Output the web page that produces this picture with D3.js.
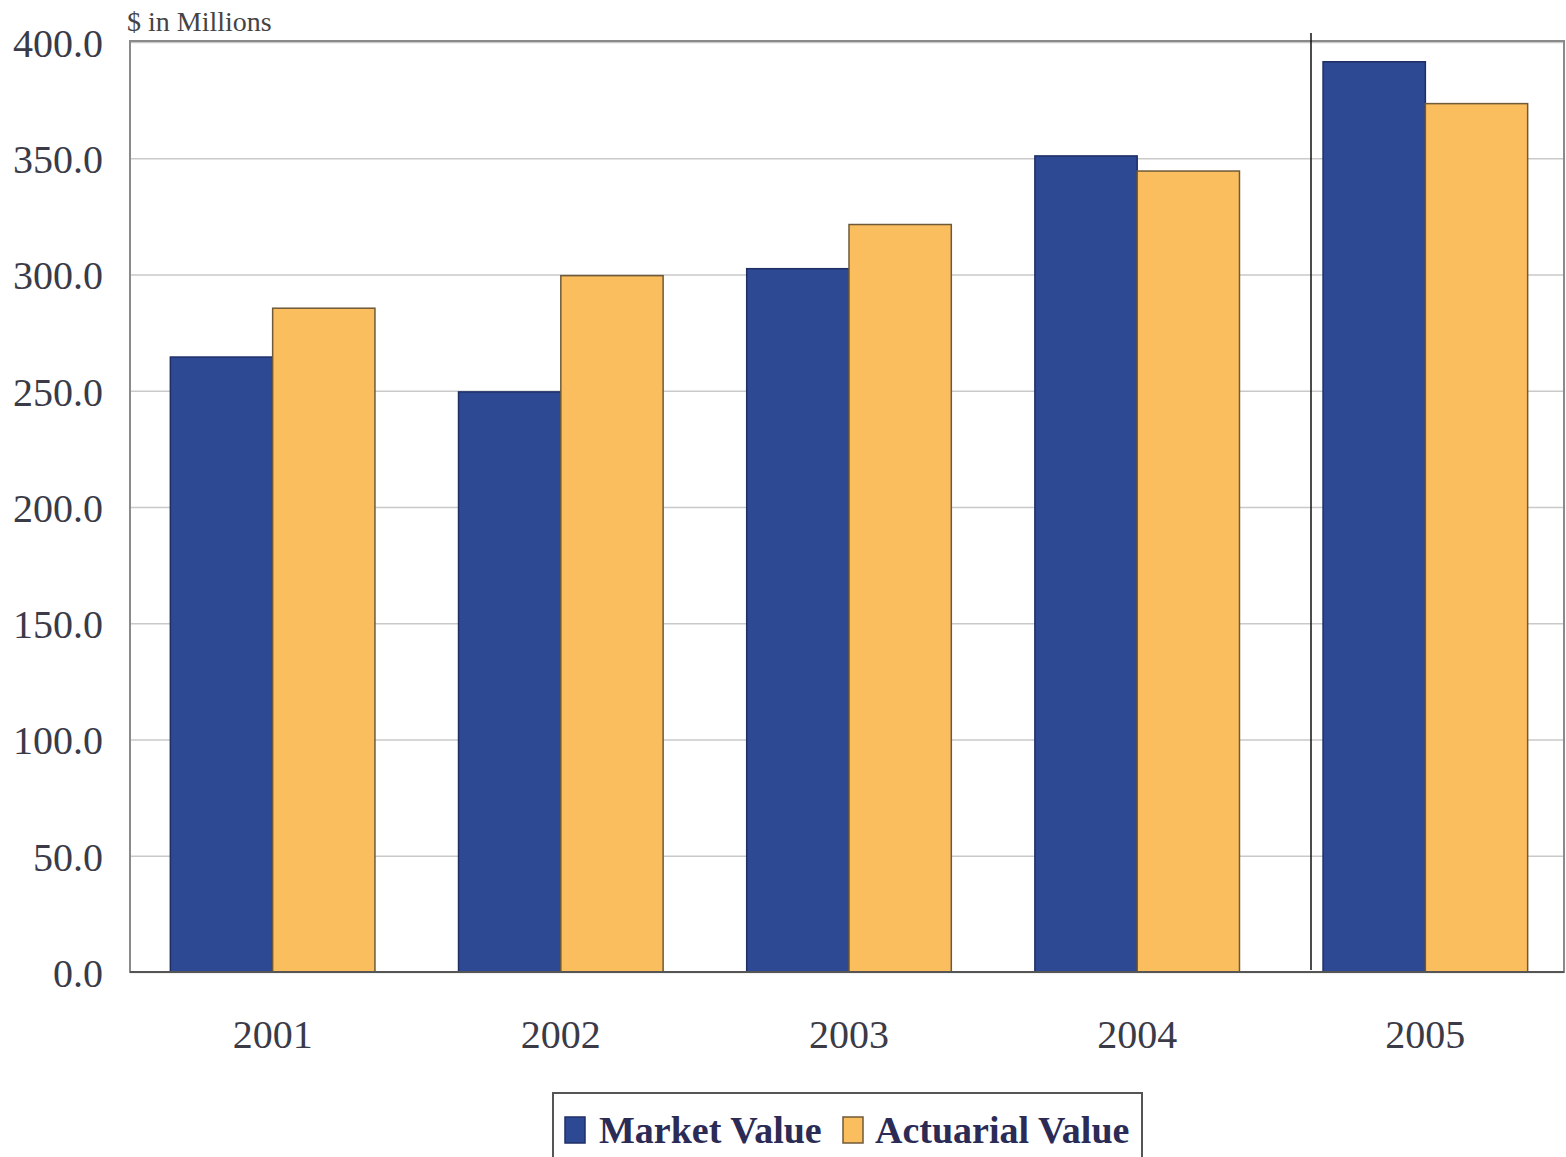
<!DOCTYPE html>
<meta charset="utf-8">
<head>
	<title>Market vs Actuarial Value</title>
</head>

<style>
body{
	margin: 0;
	background: #fff;
}
svg{
	display: block;
}
.tick text{
	font-family: "Liberation Serif", "Times New Roman", serif;
	fill: #3b3b48;
}
.grid line{
	stroke: #c9c9c9;
	stroke-width: 1.5;
}
</style>

<body>
<svg width="1566" height="1157"></svg>

<script src="https://cdnjs.cloudflare.com/ajax/libs/d3/7.8.5/d3.min.js"></script>
<script>

var years = ['2001', '2002', '2003', '2004', '2005'];
var market_value = [264.5, 249.5, 302.5, 351.0, 391.5];
var actuarial_value = [285.5, 299.5, 321.5, 344.5, 373.5];
var y_ticks = [0, 50, 100, 150, 200, 250, 300, 350, 400];
var series_names = ['Market Value', 'Actuarial Value'];
var colors = ['#2d4994', '#fbbe5f'];
var outlines = ['#1f2f66', '#6e5a38'];

var svg = d3.select('svg');
var plot_left = 130, plot_right = 1564, plot_top = 42, plot_bottom = 972;

var x = d3.scaleBand()
	.domain(years)
	.range([plot_left, plot_right + 4])
	.paddingInner(0.29)
	.paddingOuter(0.14);

var x_inner = d3.scaleBand()
	.domain([0, 1])
	.range([0, x.bandwidth()]);

var y = d3.scaleLinear()
	.domain([0, 400])
	.range([plot_bottom, plot_top]);

// グリッド
svg.append('g')
	.attr('class', 'grid')
	.attr('transform', 'translate(' + plot_left + ',0)')
	.call(d3.axisLeft(y).tickValues(y_ticks).tickSize(-(plot_right - plot_left)).tickFormat(''))
	.call(function(g){ g.select('.domain').remove(); });

// 枠
svg.append('rect')
	.attr('x', plot_left)
	.attr('y', plot_top - 1)
	.attr('width', plot_right - plot_left)
	.attr('height', plot_bottom - plot_top + 1)
	.attr('fill', 'none')
	.attr('stroke', '#8a8a8a')
	.attr('stroke-width', 2);

// 棒
var rows = years.map(function(d, i){
	return {year: d, values: [market_value[i], actuarial_value[i]]};
});

var groups = svg.selectAll('.year')
	.data(rows)
	.enter()
	.append('g')
	.attr('class', 'year')
	.attr('transform', function(d){ return 'translate(' + x(d.year) + ',0)'; });

groups.selectAll('rect')
	.data(function(d){ return d.values; })
	.enter()
	.append('rect')
	.attr('x', function(d, i){ return x_inner(i); })
	.attr('y', function(d){ return y(d); })
	.attr('width', x_inner.bandwidth())
	.attr('height', function(d){ return y(0) - y(d); })
	.attr('fill', function(d, i){ return colors[i]; })
	.attr('stroke', function(d, i){ return outlines[i]; })
	.attr('stroke-width', 1.5);

// 軸
var y_axis = svg.append('g')
	.attr('transform', 'translate(' + plot_left + ',0)')
	.call(d3.axisLeft(y).tickValues(y_ticks).tickSize(0).tickPadding(27).tickFormat(d3.format('.1f')));
y_axis.select('.domain').remove();
y_axis.selectAll('text')
	.attr('font-size', 40)
	.attr('dy', '0.36em');

var x_axis = svg.append('g')
	.attr('transform', 'translate(0,' + plot_bottom + ')')
	.call(d3.axisBottom(x).tickSize(0).tickPadding(48));
x_axis.select('.domain').remove();
x_axis.selectAll('text')
	.attr('font-size', 40)
	.attr('dy', '0.71em');

svg.append('line')
	.attr('x1', plot_left).attr('x2', plot_right)
	.attr('y1', plot_bottom).attr('y2', plot_bottom)
	.attr('stroke', '#555')
	.attr('stroke-width', 2);

// スキャンの縦線
svg.append('line')
	.attr('x1', 1311).attr('x2', 1311)
	.attr('y1', 33).attr('y2', 970)
	.attr('stroke', '#111')
	.attr('stroke-width', 1.5);

// 単位
svg.append('text')
	.attr('x', 127)
	.attr('y', 31)
	.attr('font-family', '"Liberation Serif", serif')
	.attr('font-size', 28)
	.attr('fill', '#444')
	.text('$ in Millions');

// 凡例
var legend = svg.append('g');
legend.append('rect')
	.attr('x', 553)
	.attr('y', 1093)
	.attr('width', 589)
	.attr('height', 70)
	.attr('fill', '#fff')
	.attr('stroke', '#555')
	.attr('stroke-width', 2);

var legend_x = [565, 843];
var legend_text_x = [599, 875];
series_names.forEach(function(name, i){
	legend.append('rect')
		.attr('x', legend_x[i])
		.attr('y', 1117)
		.attr('width', 20)
		.attr('height', 26)
		.attr('fill', colors[i])
		.attr('stroke', outlines[i])
		.attr('stroke-width', 1.5);
	legend.append('text')
		.attr('x', legend_text_x[i])
		.attr('y', 1143)
		.attr('font-family', '"Liberation Serif", serif')
		.attr('font-weight', 'bold')
		.attr('font-size', 38)
		.attr('fill', '#2b2b55')
		.text(name);
});

</script>
</body>
</html>
